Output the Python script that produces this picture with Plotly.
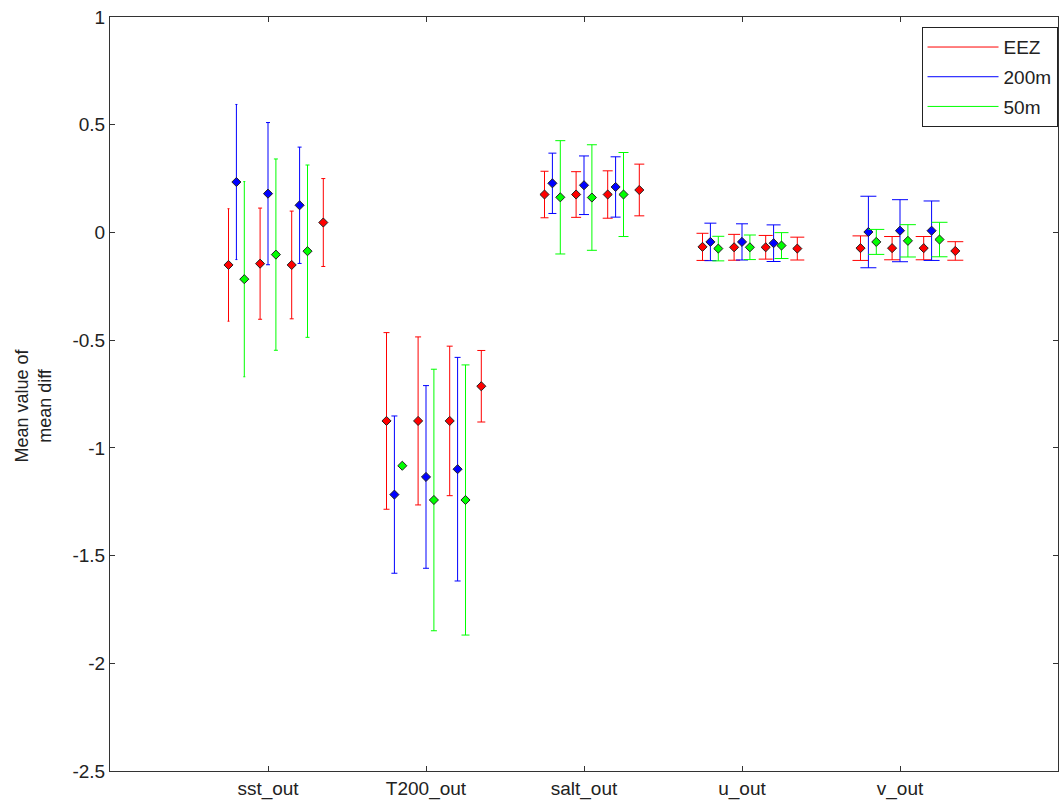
import plotly.graph_objects as go

# Categories on the x axis (placed at 1..5)
categories = ["sst_out", "T200_out", "salt_out", "u_out", "v_out"]

# EEZ: four estimates per variable
eez_mean = [
    [-0.151, -0.145, -0.151, 0.046],
    [-0.875, -0.875, -0.875, -0.714],
    [0.176, 0.176, 0.176, 0.197],
    [-0.067, -0.069, -0.069, -0.075],
    [-0.073, -0.073, -0.073, -0.086],
]
eez_err = [
    [0.261, 0.258, 0.250, 0.204],
    [0.410, 0.390, 0.347, 0.166],
    [0.108, 0.106, 0.110, 0.120],
    [0.063, 0.060, 0.055, 0.053],
    [0.057, 0.054, 0.054, 0.043],
]

# 200m: three estimates per variable
m200_mean = [
    [0.234, 0.180, 0.126],
    [-1.217, -1.135, -1.099],
    [0.228, 0.219, 0.211],
    [-0.044, -0.044, -0.050],
    [0.002, 0.008, 0.008],
]
m200_err = [
    [0.360, 0.330, 0.270],
    [0.365, 0.424, 0.519],
    [0.140, 0.136, 0.140],
    [0.087, 0.084, 0.085],
    [0.166, 0.144, 0.138],
]

# 50m: three estimates per variable
m50_mean = [
    [-0.217, -0.103, -0.087],
    [-1.083, -1.242, -1.242],
    [0.163, 0.162, 0.176],
    [-0.075, -0.069, -0.061],
    [-0.044, -0.039, -0.033],
]
m50_err = [
    [0.453, 0.444, 0.400],
    [0.000, 0.607, 0.627],
    [0.263, 0.245, 0.195],
    [0.057, 0.057, 0.060],
    [0.058, 0.075, 0.080],
]

series = [
    ("EEZ", "#ff0000", eez_mean, eez_err, [-0.25, -0.05, 0.15, 0.35]),
    ("200m", "#0000ff", m200_mean, m200_err, [-0.20, 0.00, 0.20]),
    ("50m", "#00ff00", m50_mean, m50_err, [-0.15, 0.05, 0.25]),
]

y_ticks = [-2.5, -2, -1.5, -1, -0.5, 0, 0.5, 1]
y_ticktext = ["-2.5", "-2", "-1.5", "-1", "-0.5", "0", "0.5", "1"]

FONT = "Liberation Sans, Arial, sans-serif"
TEXT_COLOR = "#222222"

X_RANGE = [0, 6]
PLOT_W = 1062 - 110 - 4
PX_PER_UNIT = PLOT_W / (X_RANGE[1] - X_RANGE[0])

fig = go.Figure()

for name, color, means, errs, offsets in series:
    # legend entry drawn as a plain line
    fig.add_trace(go.Scatter(
        x=[None], y=[None], mode="lines", name=name,
        line=dict(color=color, width=1), legendgroup=name, showlegend=True,
    ))
    for ci, cat in enumerate(categories):
        for k, off in enumerate(offsets):
            xv = ci + 1 + off
            # cap half-width grows with x (1% of x, in axis units)
            cap = max(1, round(0.01 * xv * PX_PER_UNIT))
            fig.add_trace(go.Scatter(
                x=[xv], y=[means[ci][k]], mode="markers",
                legendgroup=name, showlegend=False, hoverinfo="skip",
                marker=dict(symbol="diamond", size=7, color=color,
                            line=dict(color="#222222", width=1)),
                error_y=dict(type="data", array=[errs[ci][k]], color=color,
                             thickness=1, width=cap, visible=True),
            ))

axis_common = dict(
    showline=True, linecolor="#333333", linewidth=1, mirror="ticks",
    ticks="inside", ticklen=5, tickcolor="#333333", showgrid=False,
    zeroline=False,
    tickfont=dict(family=FONT, size=19, color=TEXT_COLOR),
)

fig.update_layout(
    width=1062, height=804,
    margin=dict(l=110, r=4, t=17, b=33),
    paper_bgcolor="white", plot_bgcolor="white",
    xaxis=dict(range=X_RANGE, tickvals=[1, 2, 3, 4, 5], ticktext=categories,
               **axis_common),
    yaxis=dict(range=[-2.5, 1], tickvals=y_ticks, ticktext=y_ticktext,
               **axis_common),
    annotations=[dict(
        text="Mean value of<br>mean diff", textangle=-90,
        xref="paper", yref="paper", x=-0.081, y=0.485,
        xanchor="center", yanchor="middle", showarrow=False,
        font=dict(family=FONT, size=18, color=TEXT_COLOR),
    )],
    legend=dict(x=0.9995, y=0.9865, xanchor="right", yanchor="top",
                bgcolor="white", bordercolor="#222222", borderwidth=1,
                font=dict(family=FONT, size=19, color=TEXT_COLOR),
                tracegroupgap=2, itemwidth=71),
    showlegend=True,
)

fig.write_html("out.html")
